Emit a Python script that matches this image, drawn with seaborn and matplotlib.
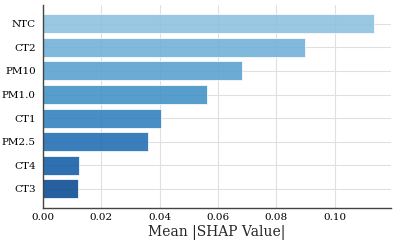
import matplotlib
matplotlib.use("Agg")
import matplotlib.pyplot as plt
import seaborn as sns
import numpy as np
import pandas as pd

features = ["NTC", "CT2", "PM10", "PM1.0", "CT1", "PM2.5", "CT4", "CT3"]
mean_shap = [0.1135, 0.0897, 0.0682, 0.0563, 0.0406, 0.0359, 0.0123, 0.0122]

df = pd.DataFrame({"feature": features, "shap": mean_shap})

sns.set_style("whitegrid")
plt.rcParams["font.family"] = ["DejaVu Serif"]

fig, ax = plt.subplots(figsize=(3.96, 2.43), dpi=100)
# light -> dark blues, most important feature lightest
palette = [plt.cm.Blues(v) for v in np.linspace(0.42, 0.9, len(features))]
sns.barplot(data=df, x="shap", y="feature", hue="feature", palette=palette,
            legend=False, orient="h", width=0.8, alpha=0.88, saturation=1,
            edgecolor="white", linewidth=0.6, ax=ax)

ax.set_xlabel("Mean |SHAP Value|", fontsize=10, labelpad=2)
ax.set_ylabel("")
ax.set_xlim(0, max(mean_shap) * 1.05)
ax.set_ylim(len(features) - 0.2, -0.8)
ax.tick_params(axis="both", labelsize=7.5, length=3, width=0.8, colors="black", pad=2)
ax.tick_params(axis="x", length=0, pad=4)
ax.grid(True, color="#e0e0e0", linewidth=0.8)
ax.set_axisbelow(True)
for s in ["top", "right"]:
    ax.spines[s].set_visible(False)
for s in ["left", "bottom"]:
    ax.spines[s].set_color("#444444")
    ax.spines[s].set_linewidth(1.0)

fig.subplots_adjust(left=0.108, right=0.987, top=0.98, bottom=0.145)
fig.savefig("out.png", dpi=100)
